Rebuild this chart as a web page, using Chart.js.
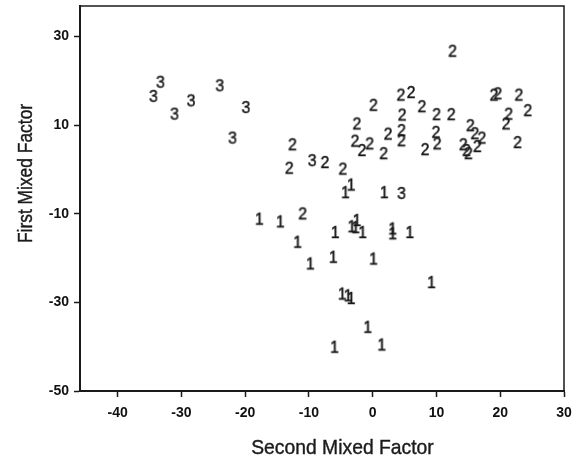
<!DOCTYPE html>
<html>
<head>
<meta charset="utf-8">
<script src="https://cdn.jsdelivr.net/npm/chart.js@4/dist/chart.umd.min.js"></script>
<style>
  html, body { margin: 0; padding: 0; background: #fff; }
  #wrap { width: 573px; height: 458px; }
</style>
</head>
<body>
<div id="wrap"><canvas id="c" width="573" height="458"></canvas></div>
<script>
// ---- data ----
const group1X = [-3.4, -4.3, -17.8, -14.5, -11.8, -9.8, -6.2, -5.9, -3.3, -2.5, -2.7, -1.6, 0.1, -4.8, -3.9, -3.4, 1.8, 3.1, 3.1, 5.8, 9.2, -6.0, -0.8, 1.4];
const group1Y = [-3.4, -5.1, -11.1, -11.7, -16.3, -21.2, -19.7, -14.1, -12.8, -11.4, -13.0, -14.1, -20.1, -28.0, -28.4, -29.0, -5.1, -13.3, -14.4, -14.1, -25.4, -40.0, -35.5, -39.5];

const group2X = [-12.6, -13.1, -7.5, -4.7, -11.0, 0.1, -2.5, -2.8, -1.7, -0.5, 12.5, 4.4, 6.0, 7.7, 10.0, 12.3, 4.6, 2.4, 4.5, 4.5, 9.9, 10.1, 8.2, 1.7, 15.3, 16.0, 17.1, 14.2, 14.7, 15.0, 16.4, 19.0, 19.6, 22.9, 24.3, 21.3, 20.9, 22.7];
const group2Y = [5.7, 0.4, 1.7, 0.2, -9.9, 14.6, 10.4, 6.5, 4.4, 5.9, 26.8, 16.9, 17.5, 14.3, 12.5, 12.5, 12.4, 8.1, 8.9, 6.6, 8.5, 5.9, 4.6, 3.7, 10.0, 8.2, 7.2, 5.7, 4.4, 3.7, 5.3, 16.9, 17.2, 16.9, 13.4, 12.6, 10.4, 6.2];

const group3X = [-33.3, -34.4, -31.1, -28.5, -24.0, -19.9, -22.0, -9.5, 4.5];
const group3Y = [19.8, 16.6, 12.6, 15.6, 19.0, 14.1, 7.2, 2.1, -5.3];

const groupLabels = ["1", "2", "3"];
const xTicks = [-40, -30, -20, -10, 0, 10, 20, 30];
const yTicks = [-50, -30, -10, 10, 30];
const xTitle = "Second Mixed Factor";
const yTitle = "First Mixed Factor";

// ---- styling ----
const INK = "#1a1a1a";
const SANS = '"Liberation Sans", Arial, Helvetica, sans-serif';

function digitMarker(txt) {
  const cv = document.createElement("canvas");
  cv.width = 16; cv.height = 22;
  const g = cv.getContext("2d");
  const size = 17;
  g.font = size + "px " + SANS;
  g.fillStyle = INK;
  g.strokeStyle = INK;
  g.lineWidth = 0.5;
  g.textAlign = "center";
  g.textBaseline = "alphabetic";
  g.translate(cv.width / 2, cv.height / 2 + size * 0.358);
  g.scale(0.92, 1);
  g.fillText(txt, 0, 0);
  g.strokeText(txt, 0, 0);
  return cv;
}

function pts(xs, ys) { return xs.map((x, i) => ({ x: x, y: ys[i] })); }

const datasets = [
  { label: groupLabels[0], data: pts(group1X, group1Y) },
  { label: groupLabels[1], data: pts(group2X, group2Y) },
  { label: groupLabels[2], data: pts(group3X, group3Y) }
].map(d => Object.assign(d, {
  pointStyle: digitMarker(d.label),
  pointRadius: 5,
  pointHoverRadius: 5,
  showLine: false
}));

const frameAndTitles = {
  id: "frameAndTitles",
  afterDraw(chart) {
    const { ctx, chartArea: a } = chart;
    ctx.save();
    ctx.strokeStyle = INK;
    ctx.lineWidth = 1.5;
    ctx.beginPath();
    ctx.moveTo(a.left, a.top);
    ctx.lineTo(a.right, a.top);
    ctx.lineTo(a.right, a.bottom);
    ctx.stroke();
    ctx.fillStyle = INK;
    ctx.strokeStyle = INK;
    ctx.lineWidth = 0.4;
    ctx.textAlign = "center";
    ctx.textBaseline = "alphabetic";
    ctx.save();
    ctx.translate(342.5, 453.5);
    ctx.scale(0.92, 1);
    ctx.font = "21px " + SANS;
    ctx.fillText(xTitle, 0, 0);
    ctx.strokeText(xTitle, 0, 0);
    ctx.restore();
    ctx.translate(31.5, 173.5);
    ctx.rotate(-Math.PI / 2);
    ctx.scale(0.87, 1);
    ctx.font = "20px " + SANS;
    ctx.fillText(yTitle, 0, 0);
    ctx.strokeText(yTitle, 0, 0);
    ctx.restore();
  }
};

const tickFont = { family: SANS, size: 14, weight: "bold" };

function noPad(s) { s.paddingLeft = 0; s.paddingRight = 0; s.paddingTop = 0; s.paddingBottom = 0; }

new Chart(document.getElementById("c"), {
  type: "scatter",
  data: { datasets: datasets },
  options: {
    responsive: false,
    animation: false,
    events: [],
    layout: { padding: { top: 6, right: 9, left: 0, bottom: 0 } },
    plugins: { legend: { display: false }, tooltip: { enabled: false }, title: { display: false } },
    scales: {
      x: {
        type: "linear",
        min: -45.9,
        max: 30,
        afterFit: s => { s.height = 67; noPad(s); },
        afterBuildTicks: s => { s.ticks = xTicks.map(v => ({ value: v })); },
        grid: { drawOnChartArea: false, drawTicks: true, tickLength: 6, tickColor: INK, tickWidth: 1.5 },
        border: { display: true, color: INK, width: 2 },
        ticks: { color: "#111", font: tickFont, padding: 8, maxRotation: 0, autoSkip: false },
        title: { display: false }
      },
      y: {
        type: "linear",
        min: -50,
        max: 36.9,
        afterFit: s => { s.width = 80; noPad(s); },
        afterBuildTicks: s => { s.ticks = yTicks.map(v => ({ value: v })); },
        grid: { drawOnChartArea: false, drawTicks: true, tickLength: 6, tickColor: INK, tickWidth: 1.5 },
        border: { display: true, color: INK, width: 2 },
        ticks: { color: "#111", font: tickFont, padding: 5, autoSkip: false },
        title: { display: false }
      }
    }
  },
  plugins: [frameAndTitles]
});
</script>
</body>
</html>
